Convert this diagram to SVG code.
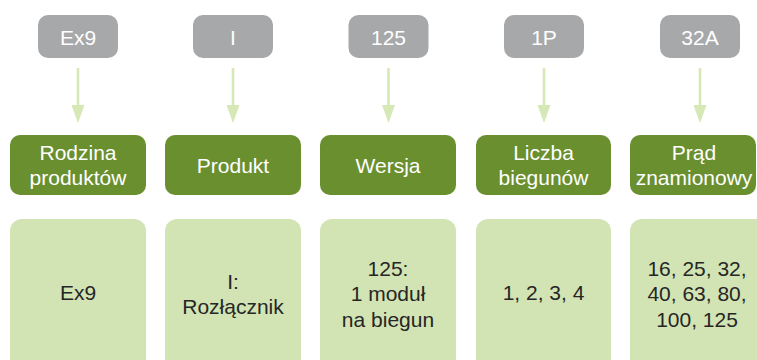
<svg xmlns="http://www.w3.org/2000/svg" width="757" height="360" viewBox="0 0 757 360">
<style>
.code{fill:#a7a8aa}
.cat{fill:#6a8f2f}
.val{fill:#d2e4b3}
text{font-family:"Liberation Sans",Arial,sans-serif;font-size:21px;text-anchor:middle}
.w{fill:#ffffff}
.d{fill:#262626}
.ln{stroke:#d5e8b5;stroke-width:2.6;fill:none}
.ah{fill:#d5e8b5}
</style>
<defs>
<marker id="arr" markerWidth="18" markerHeight="13" refX="0" refY="6.5" orient="auto" markerUnits="userSpaceOnUse" viewBox="0 0 18 13"><path d="M0,0 L18,6.5 L0,13 Z" class="ah"/></marker>
</defs>
<rect width="757" height="360" fill="#ffffff"/>
<g id="connectors">
<line class="ln" x1="78" y1="68" x2="78" y2="105" marker-end="url(#arr)"/>
<line class="ln" x1="233" y1="68" x2="233" y2="105" marker-end="url(#arr)"/>
<line class="ln" x1="388.5" y1="68" x2="388.5" y2="105" marker-end="url(#arr)"/>
<line class="ln" x1="544" y1="68" x2="544" y2="105" marker-end="url(#arr)"/>
<line class="ln" x1="700" y1="68" x2="700" y2="105" marker-end="url(#arr)"/>
</g>
<g id="code1"><rect class="code" x="38" y="15" width="80" height="43" rx="10"/><text class="w" x="78" y="45">Ex9</text></g>
<g id="code2"><rect class="code" x="193" y="15" width="80" height="43" rx="10"/><text class="w" x="233" y="45">I</text></g>
<g id="code3"><rect class="code" x="348.5" y="15" width="80" height="43" rx="10"/><text class="w" x="388.5" y="45">125</text></g>
<g id="code4"><rect class="code" x="504" y="15" width="80" height="43" rx="10"/><text class="w" x="544" y="45">1P</text></g>
<g id="code5"><rect class="code" x="660" y="15" width="80" height="43" rx="10"/><text class="w" x="700" y="45">32A</text></g>
<g id="cat1"><rect class="cat" x="10" y="135" width="136" height="60" rx="10"/><text class="w" x="78" y="160">Rodzina</text><text class="w" x="78" y="185">produktów</text></g>
<g id="cat2"><rect class="cat" x="165" y="135" width="136" height="60" rx="10"/><text class="w" x="233" y="173">Produkt</text></g>
<g id="cat3"><rect class="cat" x="320" y="135" width="136" height="60" rx="10"/><text class="w" x="388" y="173">Wersja</text></g>
<g id="cat4"><rect class="cat" x="476" y="135" width="135" height="60" rx="10"/><text class="w" x="543.5" y="160">Liczba</text><text class="w" x="543.5" y="185">biegunów</text></g>
<g id="cat5"><rect class="cat" x="630" y="135" width="126" height="60" rx="10"/><text class="w" x="694" y="160">Prąd</text><text class="w" x="694" y="185">znamionowy</text></g>
<g id="val1"><rect class="val" x="10" y="219" width="136" height="160" rx="12"/><text class="d" x="78" y="300">Ex9</text></g>
<g id="val2"><rect class="val" x="165" y="219" width="136" height="160" rx="12"/><text class="d" x="233" y="289">I:</text><text class="d" x="233" y="314">Rozłącznik</text></g>
<g id="val3"><rect class="val" x="320" y="219" width="136" height="160" rx="12"/><text class="d" x="388" y="276">125:</text><text class="d" x="388" y="301">1 moduł</text><text class="d" x="388" y="327">na biegun</text></g>
<g id="val4"><rect class="val" x="476" y="219" width="135" height="160" rx="12"/><text class="d" x="543.5" y="300">1, 2, 3, 4</text></g>
<g id="val5"><rect class="val" x="630" y="219" width="140" height="160" rx="12"/><text class="d" x="697" y="276">16, 25, 32,</text><text class="d" x="697" y="301">40, 63, 80,</text><text class="d" x="697" y="327">100, 125</text></g>
</svg>
